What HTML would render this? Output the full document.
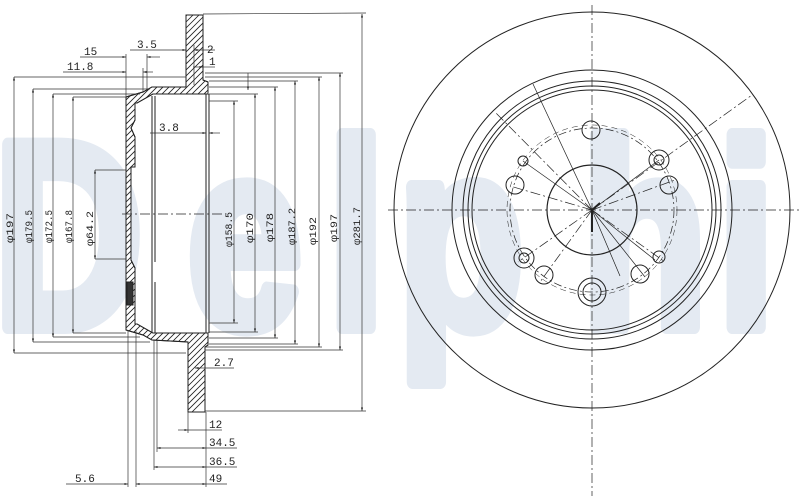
<!DOCTYPE html>
<html><head><meta charset="utf-8"><style>
html,body{margin:0;padding:0;background:#fff;width:800px;height:496px;overflow:hidden;}
svg{display:block;overflow:hidden;}
text{font-family:"Liberation Mono",monospace;fill:#222;}
text.w{font-family:"Liberation Sans",sans-serif;font-weight:bold;fill:#e4eaf2;stroke:#e4eaf2;stroke-width:14;stroke-linejoin:round;font-size:265px;}
</style></head><body>
<svg width="800" height="496" viewBox="0 0 800 496" xmlns="http://www.w3.org/2000/svg">
<defs>
<clipPath id="cp"><path d="M186,15 L203,15 L203,80 L208,82 L208,94 L153,94 L137,103 L135,103 L135,120 L131,128 L135,137 L135,167 L131,167 L131,260 L135,268 L135,324 L137,324 L153,333 L208,333 L208,345 L205,347 L205,412 L188,412 L188,342 L152,340 L143,335 L126,330 L126,97 L143,92 L152,87 L186,87 Z"/></clipPath>
<marker id="a" viewBox="0 0 10 10" refX="10" refY="5" markerWidth="7" markerHeight="5" orient="auto-start-reverse">
<path d="M0,2 L10,5 L0,8 Z" fill="#222"/></marker>
</defs>
<g>
<text class="w" x="-8" y="327" transform="scale(0.78,1)">D</text>
<text class="w" x="240" y="327" transform="scale(0.78,1)">e</text>
<text class="w" x="420" y="327" transform="scale(0.78,1)">l</text>
<text class="w" x="510" y="327" transform="scale(0.78,1)">p</text>
<text class="w" x="745" y="327" transform="scale(0.78,1)">h</text>
<text class="w" x="920" y="327" transform="scale(0.78,1)">i</text>
</g>

<g stroke="#222" stroke-width="1" fill="none">
<path fill="#fff" d="M186,15 L203,15 L203,80 L208,82 L208,94 L153,94 L137,103 L135,103 L135,120 L131,128 L135,137 L135,167 L131,167 L131,260 L135,268 L135,324 L137,324 L153,333 L208,333 L208,345 L205,347 L205,412 L188,412 L188,342 L152,340 L143,335 L126,330 L126,97 L143,92 L152,87 L186,87 Z"/>
<path clip-path="url(#cp)" stroke-width="0.8" d="M110 20l110 -110M110 26l110 -110M110 32l110 -110M110 38l110 -110M110 44l110 -110M110 50l110 -110M110 56l110 -110M110 62l110 -110M110 68l110 -110M110 74l110 -110M110 80l110 -110M110 86l110 -110M110 92l110 -110M110 98l110 -110M110 104l110 -110M110 110l110 -110M110 116l110 -110M110 122l110 -110M110 128l110 -110M110 134l110 -110M110 140l110 -110M110 146l110 -110M110 152l110 -110M110 158l110 -110M110 164l110 -110M110 170l110 -110M110 176l110 -110M110 182l110 -110M110 188l110 -110M110 194l110 -110M110 200l110 -110M110 206l110 -110M110 212l110 -110M110 218l110 -110M110 224l110 -110M110 230l110 -110M110 236l110 -110M110 242l110 -110M110 248l110 -110M110 254l110 -110M110 260l110 -110M110 266l110 -110M110 272l110 -110M110 278l110 -110M110 284l110 -110M110 290l110 -110M110 296l110 -110M110 302l110 -110M110 308l110 -110M110 314l110 -110M110 320l110 -110M110 326l110 -110M110 332l110 -110M110 338l110 -110M110 344l110 -110M110 350l110 -110M110 356l110 -110M110 362l110 -110M110 368l110 -110M110 374l110 -110M110 380l110 -110M110 386l110 -110M110 392l110 -110M110 398l110 -110M110 404l110 -110M110 410l110 -110M110 416l110 -110M110 422l110 -110M110 428l110 -110M110 434l110 -110M110 440l110 -110M110 446l110 -110M110 452l110 -110M110 458l110 -110M110 464l110 -110M110 470l110 -110M110 476l110 -110M110 482l110 -110M110 488l110 -110M110 494l110 -110"/>
<path d="M186,15 L203,15 L203,80 L208,82 L208,94 L153,94 L137,103 L135,103 L135,120 L131,128 L135,137 L135,167 L131,167 L131,260 L135,268 L135,324 L137,324 L153,333 L208,333 L208,345 L205,347 L205,412 L188,412 L188,342 L152,340 L143,335 L126,330 L126,97 L143,92 L152,87 L186,87 Z"/>
<rect x="127" y="282" width="6" height="23" fill="#333"/>
<line x1="152" y1="96" x2="152" y2="333"/>
<line x1="155" y1="96" x2="155" y2="262"/><line x1="155" y1="282" x2="155" y2="333"/>
<line x1="206" y1="94" x2="206" y2="333"/><line x1="209" y1="94" x2="209" y2="333"/>
<line x1="122" y1="214" x2="222" y2="214" stroke-dasharray="10,3,2,3" stroke-width="0.7"/>
</g>

<g stroke="#333" stroke-width="0.7" fill="none">
<line x1="14" y1="77" x2="14" y2="353" marker-start="url(#a)" marker-end="url(#a)"/>
<line x1="14" y1="77" x2="186" y2="77"/><line x1="14" y1="353" x2="186" y2="353"/>
<line x1="33" y1="89" x2="33" y2="342" marker-start="url(#a)" marker-end="url(#a)"/>
<line x1="33" y1="89" x2="150" y2="89"/><line x1="33" y1="342" x2="150" y2="342"/>
<line x1="53" y1="94" x2="53" y2="337" marker-start="url(#a)" marker-end="url(#a)"/>
<line x1="53" y1="94" x2="140" y2="94"/><line x1="53" y1="337" x2="140" y2="337"/>
<line x1="73" y1="97" x2="73" y2="333" marker-start="url(#a)" marker-end="url(#a)"/>
<line x1="73" y1="97" x2="126" y2="97"/><line x1="73" y1="333" x2="126" y2="333"/>
<line x1="95" y1="170" x2="95" y2="259" marker-start="url(#a)" marker-end="url(#a)"/>
<line x1="95" y1="170" x2="126" y2="170"/><line x1="95" y1="259" x2="126" y2="259"/>
<line x1="234" y1="101" x2="234" y2="323" marker-start="url(#a)" marker-end="url(#a)"/>
<line x1="209" y1="101" x2="238" y2="101"/><line x1="209" y1="323" x2="238" y2="323"/>
<line x1="255" y1="94" x2="255" y2="332" marker-start="url(#a)" marker-end="url(#a)"/>
<line x1="209" y1="94" x2="258" y2="94"/><line x1="209" y1="332" x2="258" y2="332"/>
<line x1="275" y1="87" x2="275" y2="338" marker-start="url(#a)" marker-end="url(#a)"/>
<line x1="209" y1="87" x2="278" y2="87"/><line x1="209" y1="338" x2="278" y2="338"/>
<line x1="295" y1="81" x2="295" y2="344" marker-start="url(#a)" marker-end="url(#a)"/>
<line x1="209" y1="81" x2="298" y2="81"/><line x1="209" y1="344" x2="298" y2="344"/>
<line x1="319" y1="77" x2="319" y2="347" marker-start="url(#a)" marker-end="url(#a)"/>
<line x1="205" y1="77" x2="322" y2="77"/><line x1="205" y1="347" x2="322" y2="347"/>
<line x1="340" y1="73" x2="340" y2="350" marker-start="url(#a)" marker-end="url(#a)"/>
<line x1="205" y1="73" x2="343" y2="73"/><line x1="205" y1="350" x2="343" y2="350"/>
<line x1="362" y1="14" x2="362" y2="411" marker-start="url(#a)" marker-end="url(#a)"/>
<line x1="203" y1="14" x2="366" y2="13"/><line x1="205" y1="411" x2="366" y2="411"/>
<line x1="248" y1="73" x2="248" y2="90" marker-end="url(#a)"/>
<line x1="80" y1="57" x2="126" y2="57" marker-end="url(#a)"/><line x1="147" y1="57" x2="160" y2="57" marker-start="url(#a)"/>
<line x1="126" y1="54" x2="126" y2="97"/><line x1="147" y1="54" x2="147" y2="90"/>
<line x1="63" y1="72" x2="126" y2="72" marker-end="url(#a)"/><line x1="143" y1="72" x2="153" y2="72" marker-start="url(#a)"/>
<line x1="143" y1="68" x2="143" y2="92"/>
<line x1="130" y1="50" x2="186" y2="50" marker-end="url(#a)"/>
<line x1="194" y1="50" x2="215" y2="50" marker-start="url(#a)"/>
<line x1="193" y1="67" x2="203" y2="67" marker-end="url(#a)"/><line x1="203" y1="67" x2="215" y2="67"/>
<line x1="194" y1="45" x2="194" y2="85"/>
<line x1="150" y1="133" x2="206" y2="133" marker-end="url(#a)"/><line x1="209" y1="133" x2="220" y2="133" marker-start="url(#a)"/>
<line x1="195" y1="368" x2="205" y2="368" marker-start="url(#a)"/><line x1="205" y1="368" x2="234" y2="368"/>
<line x1="188" y1="412" x2="188" y2="433"/><line x1="206" y1="412" x2="206" y2="487"/>
<line x1="128" y1="330" x2="128" y2="487"/><line x1="136" y1="330" x2="136" y2="487"/>
<line x1="154" y1="340" x2="154" y2="470"/><line x1="157" y1="340" x2="157" y2="452"/>
<line x1="178" y1="430" x2="188" y2="430" marker-end="url(#a)"/><line x1="188" y1="430" x2="206" y2="430"/><line x1="206" y1="430" x2="222" y2="430"/>
<line x1="157" y1="448" x2="206" y2="448" marker-start="url(#a)" marker-end="url(#a)"/><line x1="206" y1="448" x2="237" y2="448"/>
<line x1="154" y1="467" x2="206" y2="467" marker-start="url(#a)" marker-end="url(#a)"/><line x1="206" y1="467" x2="237" y2="467"/>
<line x1="66" y1="484" x2="128" y2="484" marker-end="url(#a)"/><line x1="136" y1="484" x2="206" y2="484" marker-start="url(#a)" marker-end="url(#a)"/><line x1="206" y1="484" x2="227" y2="484"/>
</g>

<g font-size="11">
<text x="84" y="55">15</text>
<text x="67" y="70">11.8</text>
<text x="137" y="48">3.5</text>
<text x="207" y="53">2</text>
<text x="209" y="65">1</text>
<text x="159" y="131">3.8</text>
<text x="214" y="366">2.7</text>
<text x="209" y="428">12</text>
<text x="209" y="446">34.5</text>
<text x="209" y="465">36.5</text>
<text x="209" y="482">49</text>
<text x="75" y="482">5.6</text>
</g>
<g font-size="10.5">
<text transform="translate(13,243) rotate(-90)" textLength="30" lengthAdjust="spacingAndGlyphs">φ197</text>
<text transform="translate(32,243) rotate(-90)" textLength="33" lengthAdjust="spacingAndGlyphs">φ179.5</text>
<text transform="translate(52,243) rotate(-90)" textLength="33" lengthAdjust="spacingAndGlyphs">φ172.5</text>
<text transform="translate(72,243) rotate(-90)" textLength="33" lengthAdjust="spacingAndGlyphs">φ167.8</text>
<text transform="translate(93,246) rotate(-90)" textLength="35" lengthAdjust="spacingAndGlyphs">φ64.2</text>
<text transform="translate(232,247) rotate(-90)" textLength="35" lengthAdjust="spacingAndGlyphs">φ158.5</text>
<text transform="translate(253,243) rotate(-90)" textLength="30" lengthAdjust="spacingAndGlyphs">φ170</text>
<text transform="translate(273,242) rotate(-90)" textLength="29" lengthAdjust="spacingAndGlyphs">φ178</text>
<text transform="translate(295,245) rotate(-90)" textLength="37" lengthAdjust="spacingAndGlyphs">φ187.2</text>
<text transform="translate(316,245) rotate(-90)" textLength="28" lengthAdjust="spacingAndGlyphs">φ192</text>
<text transform="translate(337,242) rotate(-90)" textLength="28" lengthAdjust="spacingAndGlyphs">φ197</text>
<text transform="translate(360,245) rotate(-90)" textLength="38" lengthAdjust="spacingAndGlyphs">φ281.7</text>
</g>

<g stroke="#222" stroke-width="1" fill="none">
<circle cx="592" cy="210" r="198"/>
<circle cx="592" cy="210" r="140"/>
<circle cx="592" cy="210" r="129"/>
<circle cx="592" cy="210" r="124"/>
<circle cx="592" cy="210" r="120"/>
<circle cx="592" cy="210" r="45" stroke-width="1.2"/>
<circle cx="592" cy="210" r="82" stroke-dasharray="8,3,2,3" stroke-width="0.7"/>
<circle cx="592" cy="210" r="85" stroke-dasharray="6,4" stroke-width="0.5"/>
<g stroke-width="0.7" stroke-dasharray="10,3,2,3">
<line x1="388" y1="210" x2="800" y2="210"/>
<line x1="592" y1="5" x2="592" y2="496"/>
<line x1="592" y1="210" x2="752" y2="95"/>
<line x1="592" y1="210" x2="495" y2="112"/>
<line x1="592" y1="210" x2="510" y2="186"/>
<line x1="592" y1="210" x2="518" y2="262"/>
<line x1="592" y1="210" x2="540" y2="282"/>
<line x1="592" y1="210" x2="675" y2="180"/>
<line x1="592" y1="210" x2="665" y2="262"/>
</g>
<g stroke-width="0.7">
<line x1="592" y1="210" x2="533" y2="84"/>
<line x1="592" y1="210" x2="523" y2="161"/>
<line x1="592" y1="210" x2="659" y2="160"/>
<line x1="592" y1="210" x2="645" y2="277"/>
<line x1="592" y1="210" x2="620" y2="276"/>
<line x1="592" y1="210" x2="655" y2="260"/>
<line x1="592" y1="210" x2="592" y2="232" stroke-width="2"/>
<line x1="592" y1="210" x2="600" y2="203" stroke-width="2"/>
</g>
<circle cx="591" cy="130" r="9"/>
<circle cx="523" cy="161" r="5"/>
<circle cx="515" cy="185" r="9"/>
<circle cx="659" cy="160" r="10"/><circle cx="659" cy="160" r="5"/>
<circle cx="669" cy="185" r="9"/>
<circle cx="524" cy="258" r="10"/><circle cx="524" cy="258" r="5"/>
<circle cx="544" cy="275" r="9"/>
<circle cx="592" cy="292" r="14"/><circle cx="592" cy="292" r="9"/>
<circle cx="640" cy="274" r="9"/>
<circle cx="659" cy="257" r="6"/>
</g>
</svg>
</body></html>
